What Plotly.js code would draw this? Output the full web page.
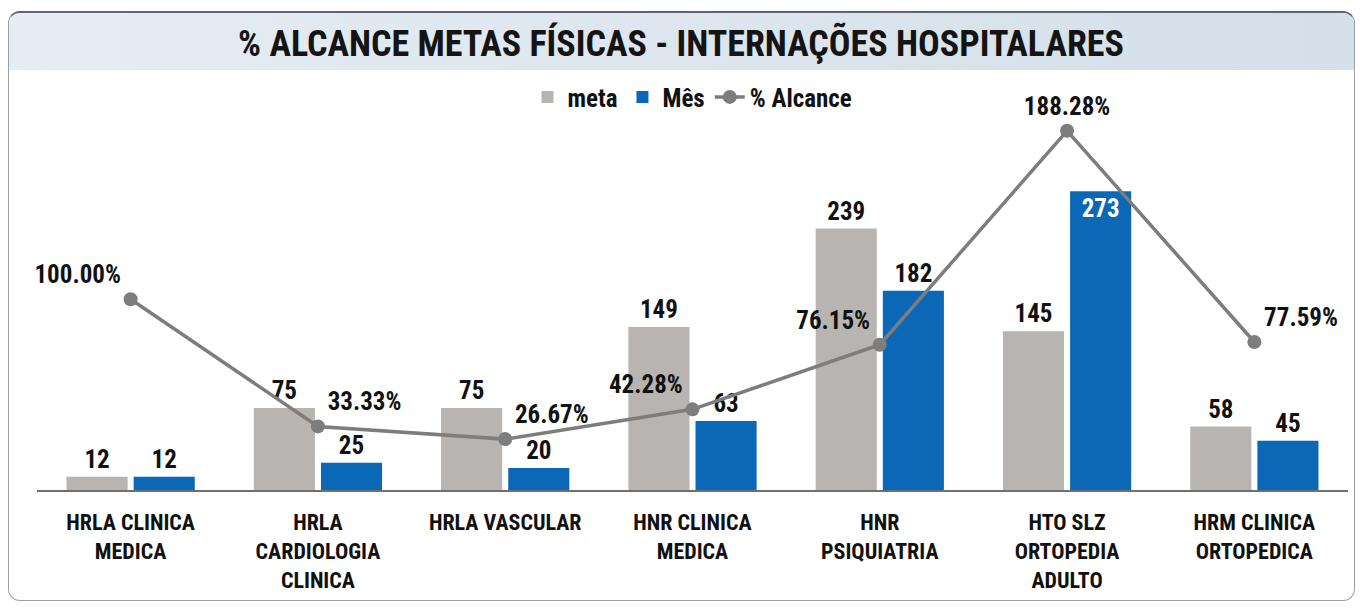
<!DOCTYPE html>
<html>
<head>
<meta charset="utf-8">
<script src="https://cdn.plot.ly/plotly-3.0.1.min.js"></script>
<style>
html,body{margin:0;padding:0;background:#ffffff;width:1362px;height:608px;overflow:hidden;}
#frame{position:absolute;left:8px;top:11px;width:1345px;height:587px;border:1.5px solid #9aa0a6;border-top:2px solid #5d6670;border-radius:12px;overflow:hidden;background:#fff;}
#band{position:absolute;left:0;top:0;width:100%;height:57px;background:linear-gradient(90deg,#e6edf3 0%,#dde6ee 50%,#d4dfea 100%);}
#chart{position:absolute;left:0;top:0;width:1362px;height:608px;}
</style>
</head>
<body>
<div id="frame"><div id="band"></div></div>
<div id="chart"></div>
<script>
const categories = [
  "HRLA CLINICA<br>MEDICA",
  "HRLA<br>CARDIOLOGIA<br>CLINICA",
  "HRLA VASCULAR",
  "HNR CLINICA<br>MEDICA",
  "HNR<br>PSIQUIATRIA",
  "HTO SLZ<br>ORTOPEDIA<br>ADULTO",
  "HRM CLINICA<br>ORTOPEDICA"
];
const meta = [12, 75, 75, 149, 239, 145, 58];
const mes = [12, 25, 20, 63, 182, 273, 45];
const alcance = [100.00, 33.33, 26.67, 42.28, 76.15, 188.28, 77.59];

const FONT = '"Liberation Sans Narrow", "Arial Narrow", "Roboto Condensed", "Liberation Sans", Arial, sans-serif';
const GRAY = '#b7b4b2';
const BLUE = '#0b68b7';
const LINE = '#7d7d7d';

const mesTextPos = mes.map(v => v > 250 ? 'inside' : 'outside');
const mesTextColor = mes.map(v => v > 250 ? '#ffffff' : '#111111');
const pctPos = ['top left','top right','top right','top left','top left','top center','top right'];

const traces = [
  {
    type: 'bar', name: 'meta', x: categories, y: meta,
    marker: {color: GRAY},
    text: meta.map(String), textposition: 'outside', cliponaxis: false,
    textfont: {family: FONT, size: 25, color: '#111111', weight: 700},
    hoverinfo: 'skip'
  },
  {
    type: 'bar', name: 'Mês', x: categories, y: mes,
    marker: {color: BLUE},
    text: mes.map(String), textposition: mesTextPos, insidetextanchor: 'end', cliponaxis: false,
    textfont: {family: FONT, size: 25, color: mesTextColor, weight: 700},
    hoverinfo: 'skip'
  },
  {
    type: 'scatter', mode: 'lines+markers+text', name: '% Alcance',
    x: categories, y: alcance, yaxis: 'y2',
    line: {color: LINE, width: 3.5},
    marker: {color: LINE, size: 14},
    text: alcance.map(v => v.toFixed(2) + '%'),
    textposition: pctPos, cliponaxis: false,
    textfont: {family: FONT, size: 25, color: '#111111', weight: 700},
    hoverinfo: 'skip'
  }
];

const layout = {
  width: 1362, height: 608,
  paper_bgcolor: 'rgba(0,0,0,0)', plot_bgcolor: 'rgba(0,0,0,0)',
  margin: {l: 37, r: 14, t: 118, b: 118},
  title: {
    text: '<b>% ALCANCE METAS FÍSICAS - INTERNAÇÕES HOSPITALARES</b>',
    font: {family: FONT, size: 36, color: '#141414'},
    x: 0.5, xanchor: 'center', y: 0.928, yanchor: 'middle'
  },
  showlegend: true,
  legend: {
    orientation: 'h', x: 0.5, xanchor: 'center', y: 1.056, yanchor: 'middle',
    font: {family: FONT, size: 25, color: '#111111', weight: 700},
    itemwidth: 30, tracegroupgap: 0, bgcolor: 'rgba(0,0,0,0)'
  },
  barmode: 'group', bargap: 0.283, bargroupgap: 0.09,
  xaxis: {
    type: 'category', showgrid: false, zeroline: false,
    showline: true, linecolor: '#6f6f6f', linewidth: 2,
    ticks: '', tickfont: {family: FONT, size: 22, color: '#111111', weight: 700},
    ticklabelstandoff: 12
  },
  yaxis: {
    range: [0, 340], visible: false, showgrid: false, zeroline: false, fixedrange: true
  },
  yaxis2: {
    range: [0, 195], overlaying: 'y', side: 'right', visible: false,
    showgrid: false, zeroline: false
  }
};

Plotly.newPlot('chart', traces, layout, {displayModeBar: false, staticPlot: true});
</script>
</body>
</html>
